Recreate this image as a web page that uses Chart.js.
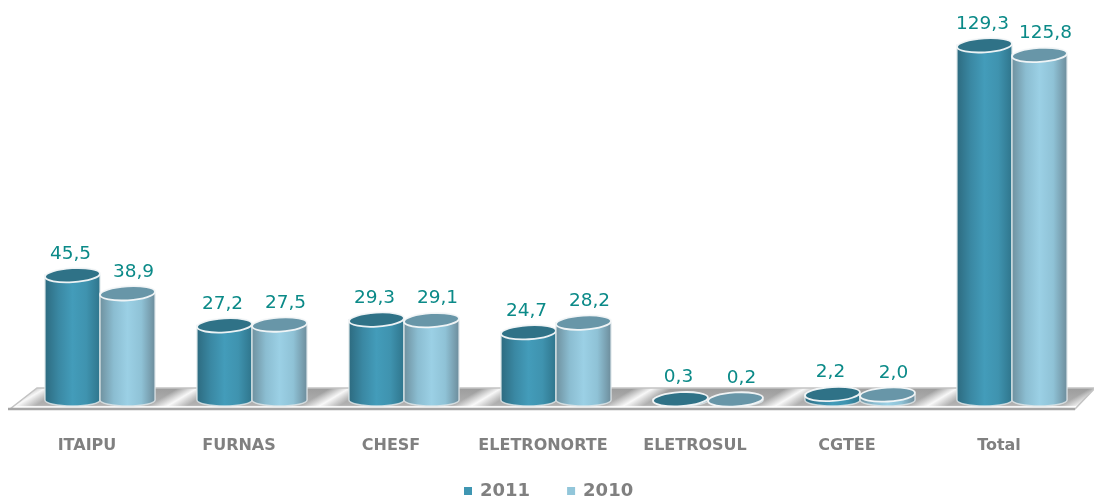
<!DOCTYPE html>
<html>
<head>
<meta charset="utf-8">
<style>
  html, body { margin: 0; padding: 0; background: #fff; }
  #wrap { width: 1094px; height: 500px; }
</style>
<script src="https://cdn.jsdelivr.net/npm/chart.js@4"></script>
</head>
<body>
<div id="wrap"><canvas id="chart" width="1094" height="500"></canvas></div>
<script>
const categories = ['ITAIPU', 'FURNAS', 'CHESF', 'ELETRONORTE', 'ELETROSUL', 'CGTEE', 'Total'];
const values2011 = [45.5, 27.2, 29.3, 24.7, 0.3, 2.2, 129.3];
const values2010 = [38.9, 27.5, 29.1, 28.2, 0.2, 2.0, 125.8];

// Shading of each series: body stops across the cylinder, lid colour, legend swatch
const palette = [
  { stops: ['#2d6b80', '#3a88a3', '#439cba', '#3f93af', '#2f758c'], lid: '#2f7287', swatch: '#3f96b2' },
  { stops: ['#6f919f', '#8bbdd1', '#9bd0e5', '#8fc2d6', '#6d8d9c'], lid: '#6896a8', swatch: '#92c6da' }
];

const LID_RY = 7;      // vertical radius of the lid ellipse
const FOOT_RY = 6;     // vertical radius of the rounded foot
const TILT = -0.06;    // slight rotation of the lids

function formatValue(v) {
  return v.toFixed(1).replace('.', ',');
}

function floorPath(ctx, left, right, top, bottom, skew) {
  ctx.beginPath();
  ctx.moveTo(left + skew, top);
  ctx.lineTo(right + 20, top);
  ctx.lineTo(right, bottom);
  ctx.lineTo(left, bottom);
  ctx.closePath();
}

function drawFloor(ctx, chart) {
  const area = chart.chartArea;
  const x = chart.scales.x;
  const top = area.bottom - 12, bottom = area.bottom + 9;
  const left = 10, right = 1075, skew = 27;
  const midY = (top + bottom) / 2;
  ctx.save();

  floorPath(ctx, left, right, top, bottom, skew);
  const base = ctx.createLinearGradient(0, top, 0, bottom);
  base.addColorStop(0, '#9c9c9c');
  base.addColorStop(0.8, '#b2b2b2');
  base.addColorStop(1, '#dcdcdc');
  ctx.fillStyle = base;
  ctx.fill();

  // Diagonal sheen between the groups
  ctx.save();
  floorPath(ctx, left, right, top, bottom, skew);
  ctx.clip();
  const nx = 0.514, ny = 0.857, reach = 10;
  const centres = [x.getPixelForValue(0) - 72];
  categories.forEach((c, i) => centres.push(x.getPixelForValue(i) + 80));
  centres.forEach((cx) => {
    const g = ctx.createLinearGradient(cx - nx * reach, midY - ny * reach, cx + nx * reach, midY + ny * reach);
    g.addColorStop(0, 'rgba(255,255,255,0)');
    g.addColorStop(0.5, 'rgba(255,255,255,0.92)');
    g.addColorStop(1, 'rgba(255,255,255,0)');
    ctx.fillStyle = g;
    ctx.fillRect(left, top, right + 20 - left, bottom - top);
  });
  ctx.restore();

  // Pale front strip and edges
  ctx.fillStyle = 'rgba(255,255,255,0.85)';
  ctx.fillRect(left + 4, bottom - 3, right - left - 2, 2);
  floorPath(ctx, left, right, top, bottom, skew);
  ctx.strokeStyle = '#c4c4c4';
  ctx.lineWidth = 1.5;
  ctx.stroke();
  ctx.strokeStyle = '#a6a6a6';
  ctx.lineWidth = 2.5;
  ctx.beginPath();
  ctx.moveTo(left - 2, bottom);
  ctx.lineTo(right, bottom);
  ctx.stroke();
  ctx.restore();
}

function drawCylinder(ctx, bar, colors) {
  const rx = bar.width / 2;
  const x = bar.x, topY = bar.y, baseY = bar.base;
  const left = x - rx, right = x + rx;
  const g = ctx.createLinearGradient(left, 0, right, 0);
  [0, 0.25, 0.5, 0.75, 1].forEach((s, i) => g.addColorStop(s, colors.stops[i]));

  // Body with rounded foot, soft pale outline
  ctx.beginPath();
  ctx.moveTo(left, topY);
  ctx.lineTo(left, baseY);
  ctx.ellipse(x, baseY, rx, FOOT_RY, 0, Math.PI, 0, true);
  ctx.lineTo(right, topY);
  ctx.closePath();
  ctx.fillStyle = g;
  ctx.fill();
  ctx.strokeStyle = 'rgba(225,232,235,0.8)';
  ctx.lineWidth = 1.5;
  ctx.stroke();

  // Lid
  ctx.beginPath();
  ctx.ellipse(x, topY, rx, LID_RY, TILT, 0, Math.PI * 2);
  ctx.fillStyle = colors.lid;
  ctx.fill();
  ctx.strokeStyle = 'rgba(245,248,249,0.95)';
  ctx.lineWidth = 1.8;
  ctx.stroke();
}

// Series key under the tick labels; swatches and names come from the datasets
function drawKey(ctx, chart) {
  const y = 491, swatch = 8, textGap = 8, itemGap = 37;
  ctx.save();
  ctx.font = 'bold 18px "DejaVu Sans"';
  ctx.textBaseline = 'middle';
  ctx.textAlign = 'left';
  let x = 464;
  chart.data.datasets.forEach((ds) => {
    ctx.fillStyle = ds.backgroundColor;
    ctx.fillRect(x, y - swatch / 2, swatch, swatch);
    x += swatch + textGap;
    ctx.fillStyle = '#808080';
    ctx.fillText(ds.label, x, y);
    x += ctx.measureText(ds.label).width + itemGap;
  });
  ctx.restore();
}

const cylinderPlugin = {
  id: 'cylinders',
  beforeDatasetsDraw(chart) {
    const ctx = chart.ctx;
    drawFloor(ctx, chart);
    chart.data.datasets.forEach((ds, d) => {
      chart.getDatasetMeta(d).data.forEach((bar) => {
        drawCylinder(ctx, bar, palette[d]);
      });
    });
    // Value labels sit above each lid
    ctx.save();
    ctx.font = '18.5px "DejaVu Sans"';
    ctx.fillStyle = '#0b8a88';
    ctx.textAlign = 'center';
    ctx.textBaseline = 'middle';
    const labelShift = [-2, 6];
    chart.data.datasets.forEach((ds, d) => {
      chart.getDatasetMeta(d).data.forEach((bar, i) => {
        ctx.fillText(formatValue(ds.data[i]), bar.x + labelShift[d], bar.y - 21.5);
      });
    });
    ctx.restore();
    drawKey(ctx, chart);
    return false;
  }
};

new Chart(document.getElementById('chart'), {
  type: 'bar',
  data: {
    labels: categories,
    datasets: [
      { label: '2011', data: values2011, backgroundColor: palette[0].swatch, borderWidth: 0 },
      { label: '2010', data: values2010, backgroundColor: palette[1].swatch, borderWidth: 0 }
    ]
  },
  plugins: [cylinderPlugin],
  options: {
    responsive: false,
    animation: false,
    layout: { padding: { left: 24, right: 6, top: 5, bottom: 0 } },
    datasets: { bar: { categoryPercentage: 0.724, barPercentage: 1 } },
    scales: {
      x: {
        grid: { display: false },
        border: { display: false },
        afterFit(scale) { scale.height = 100; },
        ticks: {
          color: '#808080',
          padding: 28,
          labelOffset: -13,
          maxRotation: 0,
          autoSkip: false,
          font: { family: '"DejaVu Sans"', size: 16, weight: 'bold' }
        }
      },
      y: { display: false, min: 0, max: 144 }
    },
    plugins: {
      tooltip: { enabled: false },
      legend: { display: false }
    }
  }
});
</script>
</body>
</html>
